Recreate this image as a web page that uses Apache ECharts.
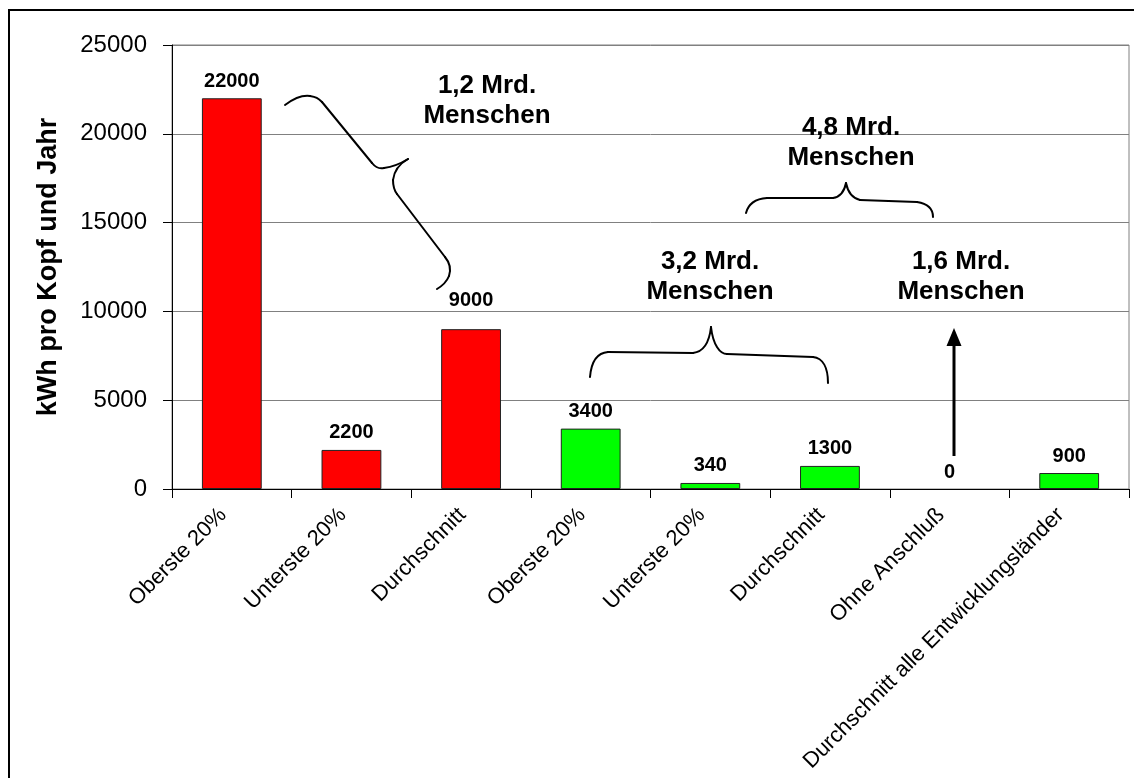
<!DOCTYPE html>
<html>
<head>
<meta charset="utf-8">
<script src="https://cdn.jsdelivr.net/npm/echarts@6/dist/echarts.min.js"></script>
<style>
html,body{margin:0;padding:0;background:#fff;}
#chart{width:1134px;height:778px;}
</style>
</head>
<body>
<div id="chart"></div>
<script>
// ---- data ----
const categories = ['Oberste 20%', 'Unterste 20%', 'Durchschnitt', 'Oberste 20%', 'Unterste 20%', 'Durchschnitt', 'Ohne Anschluß', 'Durchschnitt alle Entwicklungsländer'];
const values = [22000, 2200, 9000, 3400, 340, 1300, 0, 900];
const regions = ['Industrieländer', 'Industrieländer', 'Industrieländer', 'Entwicklungsländer', 'Entwicklungsländer', 'Entwicklungsländer', 'Entwicklungsländer', 'Entwicklungsländer'];
const yTicks = [0, 5000, 10000, 15000, 20000, 25000];
const yTitle = 'kWh pro Kopf und Jahr';
const annotations = ['1,2 Mrd.\nMenschen', '4,8 Mrd.\nMenschen', '3,2 Mrd.\nMenschen', '1,6 Mrd.\nMenschen'];

// ---- styling ----
const FONT = '"Liberation Sans", Arial, sans-serif';
const regionColor = { 'Industrieländer': '#ff0000', 'Entwicklungsländer': '#00ff00' };

const chart = echarts.init(document.getElementById('chart'), null, { renderer: 'canvas' });

const seriesData = values.map((v, i) => {
  const item = { value: v, itemStyle: { color: regionColor[regions[i]] } };
  if (v === 0) item.itemStyle.borderWidth = 0;
  if (i === 2) item.label = { distance: 19 };
  return item;
});

// build a brace out of line / bezierCurve graphic elements from a small path description
function brace(d) {
  const tok = d.trim().split(/\s+/);
  const els = [];
  let i = 0, cx = 0, cy = 0;
  const st = { stroke: '#000', lineWidth: 2, fill: null, lineCap: 'round' };
  while (i < tok.length) {
    const t = tok[i];
    const cmd = t[0];
    if (cmd === 'M') {
      cx = +t.slice(1); cy = +tok[i + 1]; i += 2;
    } else if (cmd === 'L') {
      const x = +t.slice(1), y = +tok[i + 1]; i += 2;
      els.push({ type: 'line', shape: { x1: cx, y1: cy, x2: x, y2: y }, style: st, z: 10, silent: true });
      cx = x; cy = y;
    } else if (cmd === 'C') {
      const a = [+t.slice(1)].concat(tok.slice(i + 1, i + 6).map(Number)); i += 6;
      els.push({ type: 'bezierCurve', shape: { x1: cx, y1: cy, cpx1: a[0], cpy1: a[1], cpx2: a[2], cpy2: a[3], x2: a[4], y2: a[5] }, style: st, z: 10, silent: true });
      cx = a[4]; cy = a[5];
    } else { i++; }
  }
  return { type: 'group', children: els };
}
function note(text, x, y) {
  return {
    type: 'text', x: x, y: y, z: 10,
    style: { text: text, fill: '#000', font: 'bold 26px ' + FONT, align: 'center', verticalAlign: 'middle', lineHeight: 30 }
  };
}

const option = {
  backgroundColor: '#fff',
  animation: false,
  grid: { left: 172, right: 5, top: 45, bottom: 289, show: true, borderColor: '#808080', borderWidth: 1,
    containLabel: false, outerBoundsMode: 'none' },
  xAxis: {
    type: 'category',
    data: categories,
    axisLine: { lineStyle: { color: '#000', width: 1 } },
    axisTick: { show: true, length: 9, lineStyle: { color: '#000' } },
    axisLabel: { interval: 0, rotate: 45, fontSize: 22, color: '#000', fontFamily: FONT, margin: 14,
      formatter: (v) => v + '  ' }
  },
  yAxis: {
    type: 'value',
    min: yTicks[0], max: yTicks[yTicks.length - 1], interval: yTicks[1] - yTicks[0],
    name: yTitle,
    nameLocation: 'middle',
    nameGap: 110,
    nameTextStyle: { fontSize: 27, fontWeight: 'bold', color: '#000', fontFamily: FONT },
    axisLine: { show: true, lineStyle: { color: '#000', width: 1 } },
    axisTick: { show: true, length: 9, lineStyle: { color: '#000' } },
    axisLabel: { fontSize: 24, color: '#000', fontFamily: FONT, margin: 25, formatter: (v) => String(v) },
    splitLine: { show: true, lineStyle: { color: '#808080', width: 1 } }
  },
  series: [{
    type: 'bar',
    data: seriesData,
    barWidth: '50%',
    itemStyle: { borderColor: '#222', borderWidth: 1 },
    label: { show: true, position: 'top', distance: 7, fontSize: 20, fontWeight: 'bold', color: '#000', fontFamily: FONT }
  }],
  graphic: [
    { type: 'rect', shape: { x: 9, y: 10, width: 1300, height: 900 }, style: { fill: null, stroke: '#000', lineWidth: 2 }, z: 0, silent: true },
    brace('M285 105 C293 99 303 95 310 96 C316 97 318 98 322 102 L372 163 C376 168 380 169 384 168 C392 167 400 164 408 159 C399 164 394 172 393 180 C393 186 394 190 397 194 L445 257 C450 263 451 270 449 276 C447 281 442 286 437 289'),
    brace('M746 213 C748 205 753 199 767 198 L833 198 C840 197 844 193 846 183 C848 193 852 198 860 200 L917 202 C930 204 933 210 933 217'),
    brace('M590 377 C591 365 595 353 608 352 L693 353 C702 352 709 345 711 327 C713 345 720 354 727 354 L813 357 C823 358 828 368 828 383'),
    { type: 'line', shape: { x1: 954, y1: 456, x2: 954, y2: 344 }, style: { stroke: '#000', lineWidth: 3 }, z: 10, silent: true },
    { type: 'polygon', shape: { points: [[954, 328], [946.5, 346], [961.5, 346]] }, style: { fill: '#000' }, z: 10, silent: true },
    note(annotations[0], 487, 101),
    note(annotations[1], 851, 143),
    note(annotations[2], 710, 277),
    note(annotations[3], 961, 277)
  ]
};

chart.setOption(option);
</script>
</body>
</html>
